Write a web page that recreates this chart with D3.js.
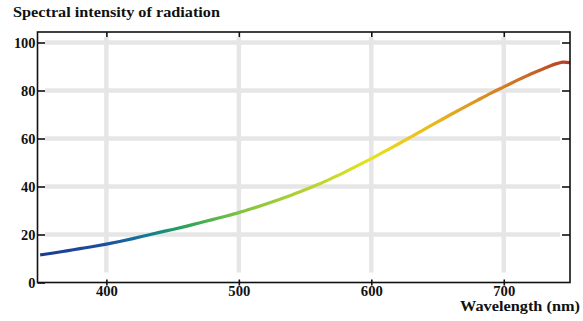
<!DOCTYPE html>
<html>
<head>
<meta charset="utf-8">
<script src="https://cdn.jsdelivr.net/npm/d3@7"></script>
<style>
html,body{margin:0;padding:0;background:#fff;}
svg{display:block;}
text{font-family:"Liberation Serif","Times New Roman",serif;font-weight:bold;fill:#111;}
</style>
</head>
<body>
<svg id="chart" width="583" height="321"></svg>
<script>
const wavelengths = [350,360,370,380,390,400,410,420,430,440,450,460,470,480,490,500,510,520,530,540,550,560,570,580,590,600,610,620,630,640,650,660,670,680,690,700,710,720,730,740,745,750];
const intensity   = [11.5,12.3,13.2,14.1,15.0,16.0,17.1,18.3,19.6,20.9,22.1,23.4,24.8,26.2,27.6,29.1,30.8,32.6,34.5,36.5,38.6,40.9,43.4,46.0,48.8,51.6,54.6,57.6,60.7,63.8,66.9,70.0,73.0,75.9,78.8,81.5,84.2,86.8,89.1,91.2,91.8,91.6];
const xTicks = [400,500,600,700];
const yTicks = [0,20,40,60,80,100];
const colorStops = [
  {nm:350, c:"#1c3a8f"},
  {nm:400, c:"#1d50a0"},
  {nm:430, c:"#137896"},
  {nm:455, c:"#23a05e"},
  {nm:500, c:"#7fc242"},
  {nm:550, c:"#b4d333"},
  {nm:600, c:"#e6e21c"},
  {nm:640, c:"#ebbf1d"},
  {nm:680, c:"#dc9424"},
  {nm:720, c:"#c96626"},
  {nm:750, c:"#b63a26"}
];
const title = "Spectral intensity of radiation";
const xLabel = "Wavelength (nm)";

const svg = d3.select("#chart");
const L = 37.5, R = 570, T = 32, B = 282.5;
const x = d3.scaleLinear().domain([348, 750]).range([L, R]);
const y = d3.scaleLinear().domain([0, 100]).range([B, 42.5]);

// gridlines
const grid = svg.append("g").attr("stroke", "#e6e6e6").attr("stroke-width", 4.5);
grid.selectAll("line.h").data(yTicks.filter(d => d > 0)).join("line")
  .attr("x1", L + 7.5).attr("x2", R - 10)
  .attr("y1", d => y(d)).attr("y2", d => y(d));
grid.selectAll("line.v").data(xTicks).join("line")
  .attr("class", "v")
  .attr("y1", T + 5).attr("y2", B - 10)
  .attr("x1", d => x(d)).attr("x2", d => x(d));

// gradient
const defs = svg.append("defs");
const grad = defs.append("linearGradient").attr("id", "spec")
  .attr("gradientUnits", "userSpaceOnUse")
  .attr("x1", x(350)).attr("x2", x(750)).attr("y1", 0).attr("y2", 0);
grad.selectAll("stop").data(colorStops).join("stop")
  .attr("offset", d => (d.nm - 350) / 400)
  .attr("stop-color", d => d.c);

const pts = wavelengths.map((w, i) => [w, intensity[i]]);
svg.append("defs").append("clipPath").attr("id", "clip")
  .append("rect").attr("x", L).attr("y", T).attr("width", R - L).attr("height", B - T);
svg.append("path")
  .datum(pts)
  .attr("clip-path", "url(#clip)")
  .attr("fill", "none")
  .attr("stroke", "url(#spec)")
  .attr("stroke-width", 3.2)
  .attr("stroke-linecap", "butt")
  .attr("d", d3.line().x(d => x(d[0])).y(d => y(d[1])).curve(d3.curveMonotoneX));

// frame
svg.append("rect").attr("x", L).attr("y", T).attr("width", R - L).attr("height", B - T)
  .attr("fill", "none").attr("stroke", "#111").attr("stroke-width", 1.6);

// axes
const ya = svg.append("g").attr("transform", `translate(${L},0)`)
  .call(d3.axisLeft(y).tickValues(yTicks).tickSize(-7.5).tickPadding(2));
const yr = svg.append("g").attr("transform", `translate(${R},0)`)
  .call(d3.axisRight(y).tickValues(yTicks.filter(d => d > 0)).tickSize(-8).tickFormat(""));
const xa = svg.append("g").attr("transform", `translate(0,${B})`)
  .call(d3.axisBottom(x).tickValues(xTicks).tickSize(3).tickPadding(0.5));
const xt = svg.append("g").attr("transform", `translate(0,${T})`)
  .call(d3.axisTop(x).tickValues(xTicks).tickSize(-5).tickFormat(""));
xa.selectAll(".tick line").attr("y1", -3);
[ya, yr, xa, xt].forEach(g => {
  g.select(".domain").remove();
  g.selectAll(".tick line").attr("stroke", "#111").attr("stroke-width", 1.6);
  g.selectAll("text").attr("font-family", "Liberation Serif, serif")
    .attr("font-weight", "bold").attr("font-size", 14).attr("fill", "#111")
    .attr("textLength", 21).attr("lengthAdjust", "spacingAndGlyphs");
});
ya.selectAll("text").attr("dy", "0.35em").attr("textLength", d => String(d).length * 7.2);
xa.selectAll("text").attr("textLength", 22);

svg.append("text").attr("x", 13).attr("y", 17).attr("font-size", 14.5)
  .attr("textLength", 207).attr("lengthAdjust", "spacingAndGlyphs").text(title);
svg.append("text").attr("x", 460).attr("y", 311)
  .attr("font-size", 14.5).attr("textLength", 120).attr("lengthAdjust", "spacingAndGlyphs").text(xLabel);
</script>
</body>
</html>
